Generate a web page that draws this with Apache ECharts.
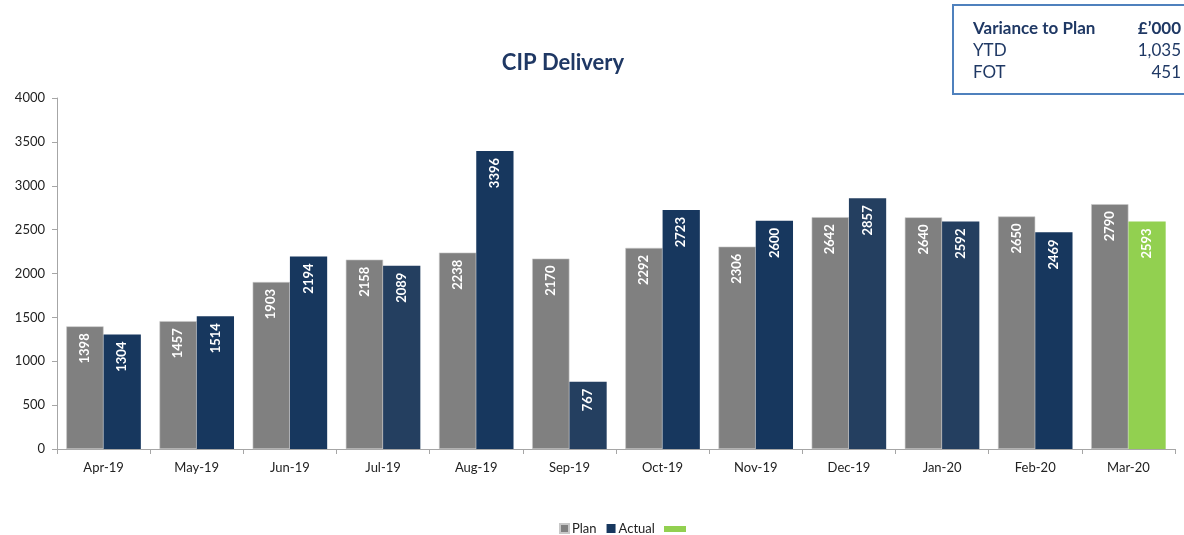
<!DOCTYPE html>
<html>
<head>
<meta charset="utf-8">
<script src="https://cdn.jsdelivr.net/npm/echarts@6/dist/echarts.min.js"></script>
<style>html,body{margin:0;padding:0;background:#fff}#c{width:1184px;height:535px}</style>
</head>
<body>
<div id="c"></div>
<script>
const categories = ['Apr-19','May-19','Jun-19','Jul-19','Aug-19','Sep-19','Oct-19','Nov-19','Dec-19','Jan-20','Feb-20','Mar-20'];
const planValues = [1398,1457,1903,2158,2238,2170,2292,2306,2642,2640,2650,2790];
const actualValues = [1304,1514,2194,2089,3396,767,2723,2600,2857,2592,2469,null];
const forecastValues = [null,null,null,null,null,null,null,null,null,null,null,2593];
const actualColors = ['#17375e','#17375e','#17375e','#243f60','#17375e','#243f60','#17375e','#17375e','#243f60','#243f60','#17375e','#17375e'];
const yTicks = [0,500,1000,1500,2000,2500,3000,3500,4000];
const boxRows = [['Variance to Plan','£’000'],['YTD','1,035'],['FOT','451']];

const FONT = 'Lato, "Open Sans", sans-serif';
const chart = echarts.init(document.getElementById('c'));
const lbl = {
  show: true, position: 'insideTop', rotate: 90, align: 'right', verticalAlign: 'middle',
  distance: 7, color: '#ffffff', fontWeight: 'bold', fontSize: 13, fontFamily: FONT,
  formatter: p => p.value == null ? '' : String(p.value)
};
const graphics = [
  {type:'rect', shape:{x:953,y:5,width:240,height:89}, style:{fill:'#fff', stroke:'#4f81bd', lineWidth:2}, z:10},
  {type:'rect', shape:{x:664,y:526,width:22,height:6}, style:{fill:'#92d050'}}
];
boxRows.forEach((r,i) => {
  const bold = i === 0;
  graphics.push({type:'text', x:973, y:29 + i*22, style:{text:r[0], fill:'#1f3864', font:(bold?'bold ':'')+'17px '+FONT, textVerticalAlign:'middle'}, z:11});
  graphics.push({type:'text', x:1181, y:29 + i*22, style:{text:r[1], fill:'#1f3864', font:(bold?'bold ':'')+'17px '+FONT, textAlign:'right', textVerticalAlign:'middle'}, z:11});
});
chart.setOption({
  animation: false,
  title: {text:'CIP Delivery', left: 558, top: 47, textAlign:'center',
    textStyle:{color:'#1f3864', fontSize:22, fontWeight:'bold', fontFamily:FONT}},
  grid: {left:57, right:9, top:98, bottom:86, containLabel:false},
  legend: {data:['Plan','Actual'], left:559, top:522, padding:0, itemWidth:9, itemHeight:9, itemGap:10,
    icon:'rect', textStyle:{fontSize:13, fontFamily:FONT, color:'#222', padding:[0,0,0,-2]}},
  xAxis: {type:'category', data:categories,
    axisLine:{lineStyle:{color:'#a6a6a6'}},
    axisTick:{show:true, length:5, lineStyle:{color:'#a6a6a6'}},
    axisLabel:{color:'#222', fontSize:13, fontFamily:FONT, margin:12}},
  yAxis: {type:'value', min:yTicks[0], max:yTicks[yTicks.length-1], interval:500,
    axisLine:{show:true, lineStyle:{color:'#a6a6a6'}},
    axisTick:{show:true, length:5, lineStyle:{color:'#a6a6a6'}},
    splitLine:{show:false},
    axisLabel:{color:'#222', fontSize:13, fontFamily:FONT, margin:12, formatter: v => String(v)}},
  series: [
    {name:'Plan', type:'bar', data:planValues, barGap:'0%', barCategoryGap:'20%',
      itemStyle:{color:'#808080', borderColor:'#c8c8c8', borderWidth:0.6}, label:lbl},
    {name:'Actual', type:'bar', stack:'a',
      data: actualValues.map((v,i) => ({value:v, itemStyle:{color:actualColors[i]}})),
      itemStyle:{color:'#17375e'}, label:lbl},
    {name:'Forecast', type:'bar', stack:'a', data:forecastValues,
      itemStyle:{color:'#92d050'}, label:lbl}
  ],
  graphic: graphics
});
</script>
</body>
</html>
